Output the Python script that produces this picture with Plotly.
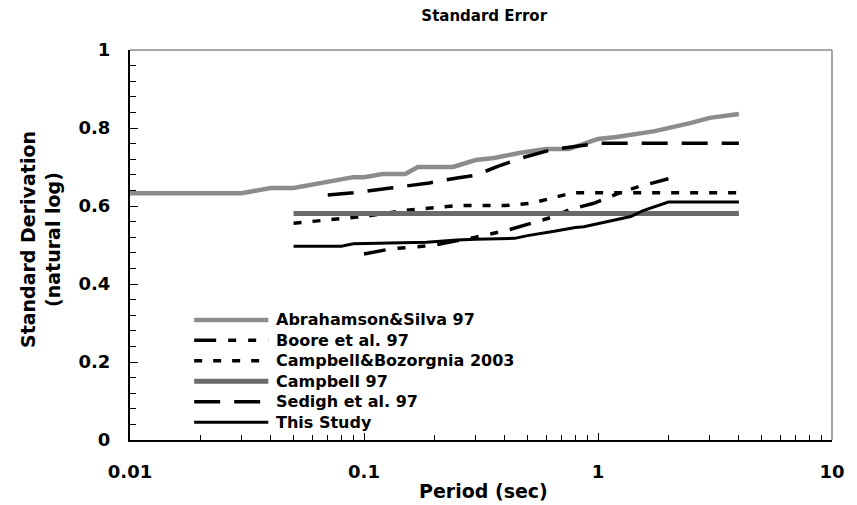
import plotly.graph_objects as go

# ---------------- data ----------------
as97_T = [0.01, 0.02, 0.03, 0.04, 0.05, 0.09, 0.1, 0.12, 0.15, 0.17, 0.24, 0.3, 0.36, 0.46, 0.6, 0.75, 1.0, 1.2, 1.5, 1.75, 2.5, 3.0, 4.0]
as97_S = [0.633, 0.633, 0.633, 0.646, 0.646, 0.674, 0.674, 0.682, 0.682, 0.700, 0.700, 0.718, 0.723, 0.736, 0.746, 0.746, 0.772, 0.777, 0.787, 0.792, 0.813, 0.826, 0.836]

boore_T = [0.1, 0.13, 0.19, 0.2, 0.3, 0.41, 0.65, 0.75, 0.96, 1.28, 1.5, 2.0]
boore_S = [0.477, 0.490, 0.498, 0.500, 0.520, 0.538, 0.573, 0.590, 0.607, 0.637, 0.650, 0.670]

cb03_T = [0.05, 0.064, 0.078, 0.1, 0.156, 0.2, 0.25, 0.31, 0.4, 0.52, 0.64, 0.78, 1.0, 2.0, 4.0]
cb03_S = [0.556, 0.562, 0.568, 0.573, 0.590, 0.596, 0.601, 0.601, 0.601, 0.607, 0.621, 0.634, 0.634, 0.634, 0.634]

c97_T = [0.05, 0.1, 0.5, 1.0, 2.0, 4.0]
c97_S = [0.581, 0.581, 0.581, 0.581, 0.581, 0.581]

sedigh_T = [0.07, 0.09, 0.13, 0.19, 0.25, 0.3, 0.375, 0.47, 0.63, 0.75, 1.0, 2.0, 4.0]
sedigh_S = [0.628, 0.634, 0.646, 0.659, 0.672, 0.679, 0.702, 0.723, 0.744, 0.750, 0.761, 0.761, 0.761]

study_T = [0.05, 0.08, 0.09, 0.185, 0.25, 0.3, 0.44, 0.5, 0.65, 0.8, 0.87, 1.13, 1.38, 1.56, 2.0, 3.0, 4.0]
study_S = [0.497, 0.497, 0.503, 0.507, 0.513, 0.515, 0.517, 0.524, 0.535, 0.545, 0.547, 0.562, 0.573, 0.588, 0.610, 0.610, 0.610]

names = ["Abrahamson&Silva 97", "Boore et al. 97", "Campbell&Bozorgnia 2003",
         "Campbell 97", "Sedigh et al. 97", "This Study"]
x_ticks = [0.01, 0.1, 1, 10]
x_ticktext = ["0.01", "0.1", "1", "10"]
y_ticks = [0, 0.2, 0.4, 0.6, 0.8, 1]
y_ticktext = ["0", "0.2", "0.4", "0.6", "0.8", "1"]

# ---------------- styles ----------------
FONT = "DejaVu Sans"
styles = [
    dict(color="#8c8c8c", width=4.5, dash="solid"),
    dict(color="black", width=3.5, dash="22px,12px,8px,12px,8px,12px"),
    dict(color="black", width=3.5, dash="8px,11px"),
    dict(color="#6a6a6a", width=5, dash="solid"),
    dict(color="black", width=3.5, dash="26px,14px"),
    dict(color="black", width=3, dash="solid"),
]
series = [(as97_T, as97_S), (boore_T, boore_S), (cb03_T, cb03_S),
          (c97_T, c97_S), (sedigh_T, sedigh_S), (study_T, study_S)]

fig = go.Figure()
for (t, s), nm, st in zip(series, names, styles):
    fig.add_trace(go.Scatter(x=t, y=s, mode="lines", name=nm, line=st,
                             showlegend=False, hoverinfo="skip"))

# manual legend
leg_x0, leg_x1, leg_tx = 0.0914, 0.197, 0.205
leg_y0, leg_dy = 0.308, 0.0525
for i, (nm, st) in enumerate(zip(names, styles)):
    yy = leg_y0 - i * leg_dy
    fig.add_shape(type="line", xref="paper", yref="paper", x0=leg_x0, x1=leg_x1,
                  y0=yy, y1=yy, line=dict(color=st["color"], width=st["width"], dash=st["dash"]))
    fig.add_annotation(xref="paper", yref="paper", x=leg_tx, y=yy, text=nm,
                       showarrow=False, xanchor="left", yanchor="middle",
                       font=dict(family=FONT, size=16, color="black", weight="bold"))

# top/right frame
fig.add_shape(type="line", xref="paper", yref="paper", x0=0, x1=1, y0=1, y1=1,
              line=dict(color="#8a8a8a", width=1.5))
fig.add_shape(type="line", xref="paper", yref="paper", x0=1, x1=1, y0=0, y1=1,
              line=dict(color="#8a8a8a", width=1.5))

# titles
fig.add_annotation(xref="paper", yref="paper", x=0.5035, y=-0.131, text="Period (sec)",
                   showarrow=False, xanchor="center", yanchor="middle",
                   font=dict(family=FONT, size=19, color="black", weight="bold"))
fig.add_annotation(xref="paper", yref="paper", x=-0.1266, y=0.513,
                   text="Standard Derivation<br>(natural log)", textangle=-90,
                   showarrow=False, xanchor="center", yanchor="middle",
                   font=dict(family=FONT, size=19, color="black", weight="bold"))

fig.update_layout(
    width=857, height=505,
    margin=dict(l=130, r=16, t=50, b=65),
    plot_bgcolor="white", paper_bgcolor="white",
    showlegend=False,
    title=dict(text="Standard Error", x=0.565, xanchor="center", y=1 - 16 / 505, yanchor="middle",
               font=dict(family=FONT, size=15, color="black", weight="bold")),
    xaxis=dict(type="log", range=[-2, 1], tickvals=x_ticks, ticktext=x_ticktext,
               ticks="inside", ticklen=7, tickwidth=1, tickcolor="black",
               showline=True, linecolor="black", linewidth=2, showgrid=False, zeroline=False,
               minor=dict(ticks="inside", ticklen=5, tickcolor="black", dtick="D1", showgrid=False),
               tickfont=dict(family=FONT, size=18, color="black", weight="bold"),
               ticklabelstandoff=14),
    yaxis=dict(range=[0, 1], tickvals=y_ticks, ticktext=y_ticktext,
               ticks="inside", ticklen=8, tickwidth=1, tickcolor="black",
               showline=True, linecolor="black", linewidth=2, showgrid=False, zeroline=False,
               minor=dict(ticks="inside", ticklen=6, tickcolor="black", dtick=0.04, showgrid=False),
               tickfont=dict(family=FONT, size=18, color="black", weight="bold"),
               ticklabelstandoff=14),
)

fig.write_html("out.html")
